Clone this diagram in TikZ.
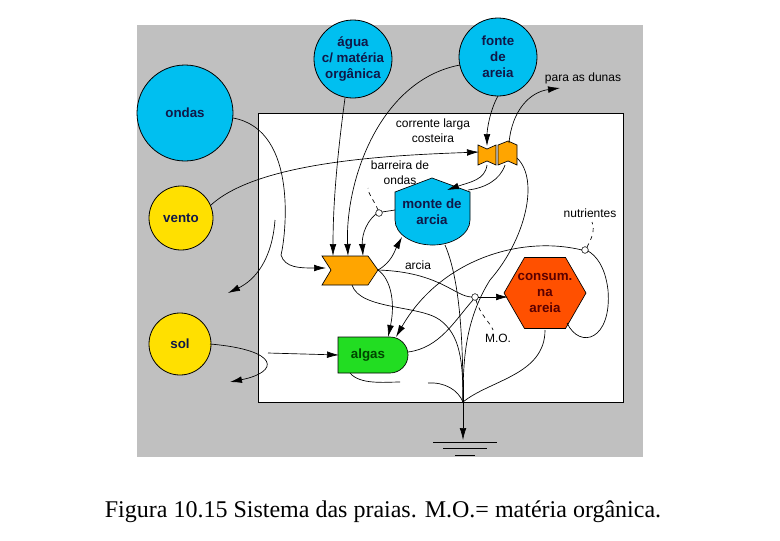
\documentclass[tikz,border=0pt]{standalone}
\usepackage{fontspec}
\setmainfont{Liberation Serif}
\setsansfont{Liberation Sans}
\usetikzlibrary{arrows.meta,shapes.geometric}
\definecolor{cy}{HTML}{00BFF0}
\definecolor{ye}{HTML}{FFE000}
\definecolor{og}{HTML}{FFA500}
\definecolor{rd}{HTML}{FF5000}
\definecolor{gr}{HTML}{22DD22}
\definecolor{nv}{HTML}{101848}
\begin{document}
\begin{tikzpicture}[x=0.75pt,y=-0.75pt,
 src/.style={circle,draw,line width=0.6pt,font=\sffamily\bfseries,text=nv,align=center,inner sep=0pt},
 lbl/.style={font=\sffamily\small,align=center,inner sep=1pt},
 ln/.style={line width=0.5pt},
 ar/.style={ln,-{Latex[length=9pt,width=5pt]}},
 sw/.style={circle,draw,fill=white,inner sep=0pt,minimum size=5pt}]
\useasboundingbox (0,0) rectangle (780,540);
\fill[fill={rgb,255:red,192;green,192;blue,192}] (137,25) rectangle (643,457);
\draw[fill=white] (258,113) rectangle (623,402);
% sources
\node[src,fill=cy,minimum size=96pt*0.75] (ondas) at (185,113) {ondas};
\node[src,fill=ye,minimum size=64pt*0.75] (vento) at (181,218) {vento};
\node[src,fill=ye,minimum size=62pt*0.75] (sol) at (180,344) {sol};
\node[src,fill=cy,minimum size=78pt*0.75] (agua) at (353,59) {água\\c/ matéria\\orgânica};
\node[src,fill=cy,minimum size=78pt*0.75] (fonte) at (498,57) {fonte\\de\\areia};
\node[lbl] (dunas) at (583,78) {para as dunas};
% corrente
\filldraw[fill=og,ln] (478,145) -- (487,149) -- (496,145) -- (496,165) -- (487,161) -- (478,165) -- cycle;
\filldraw[fill=og,ln] (498,145) -- (508,141) -- (517,145) -- (517,165) -- (508,161) -- (498,165) -- cycle;
\coordinate (cor) at (497,155);
\node[lbl] (corl) at (433,131) {corrente larga\\costeira};
% monte
\filldraw[fill=cy,ln] (432,178) -- (470,192) -- (470,220) arc[start angle=0,end angle=180,x radius=37.5,y radius=25] -- (395,192) -- cycle;
\node[font=\sffamily\bfseries,text=nv,align=center] (monte) at (432,212) {monte de\\arcia};
\node[lbl] (barl) at (400,173) {barreira de\\ondas};
\node[sw] (bc) at (379,213) {};
% chevron
\filldraw[fill=og,ln] (322,256) -- (368,256) -- (378,270) -- (368,285) -- (322,285) -- (331,270) -- cycle;
\coordinate (chv) at (350,270);
\node[lbl] (arl) at (418,265) {arcia};
% consum
\node[regular polygon,regular polygon sides=6,draw,fill=rd,minimum size=82pt*0.75,inner sep=0pt,ln] (cons) at (545,293) {};
\node[font=\sffamily\bfseries,text={rgb,255:red,90;green,0;blue,0},align=center] at (545,293) {consum.\\na\\areia};
% algas
\filldraw[fill=gr,ln] (338,337) -- (390,337) arc[start angle=-90,end angle=90,radius=18] -- (338,373) -- cycle;
\node[font=\sffamily\bfseries,text={rgb,255:red,0;green,70;blue,0}] (algas) at (368,355) {algas};
\node[lbl] (nutl) at (590,213) {nutrientes};
\node[sw] (nc) at (585,250) {};
\node[lbl] (mol) at (498,338) {M.O.};
\node[sw] (mc) at (475,297) {};
\coordinate (sink) at (463,402);
\coordinate (gnd) at (463,440);
% ground
\draw[ar] (463,380) -- (gnd);
\draw (433,442) -- (497,442) (443,448) -- (487,448) (455,455) -- (475,455);
% flows
\draw[ar] (233,118) .. controls (300,130) and (285,240) .. (281,255) .. controls (285,268) and (300,268) .. (326,268);
\draw[ar] (275,220) .. controls (272,260) and (255,280) .. (228,293);
\draw[ar] (211,205) .. controls (260,160) and (400,155) .. (479,152);
\draw[ar] (345,98) .. controls (338,150) and (333,200) .. (333,256);
\draw[ar] (460,65) .. controls (380,80) and (345,180) .. (348,256);
\draw[ln] (395,210) -- (382,212);
\draw[ar] (376,214) .. controls (363,225) and (362,240) .. (363,256);
\draw[ar] (498,96) .. controls (490,110) and (487,130) .. (487,146);
\draw[ar] (509,143) .. controls (512,110) and (530,92) .. (560,88);
\draw[ar] (487,165) .. controls (485,180) and (470,182) .. (447,190);
\draw[ln] (505,165) .. controls (500,180) and (485,188) .. (468,190);
\draw[ln] (517,158) .. controls (540,180) and (525,240) .. (490,280) .. controls (465,320) and (463,360) .. (463,402);
\draw[ln,dashed] (378,210) .. controls (374,200) and (368,194) .. (368,188);
\draw[ar] (378,270) .. controls (392,262) and (395,250) .. (402,237);
\draw[ar] (378,270) .. controls (392,280) and (395,305) .. (388,337);
\draw[ln] (378,270) .. controls (440,272) and (455,297) .. (472,297);
\draw[ar] (478,297) -- (508,297);
\draw[ln,dashed] (476,300) .. controls (480,315) and (490,322) .. (493,330);
\draw[ln] (352,285) .. controls (360,310) and (420,305) .. (440,320) .. controls (460,335) and (463,360) .. (463,402);
\draw[ar] (582,250) .. controls (520,235) and (440,260) .. (396,337);
\draw[ln] (567,323) .. controls (580,350) and (612,340) .. (608,290) .. controls (605,265) and (595,255) .. (588,251);
\draw[ln,dashed] (587,247) .. controls (592,238) and (595,230) .. (592,222);
\draw[ar] (210,344) .. controls (280,350) and (280,372) .. (230,382);
\draw[ar] (268,353) -- (339,355);
\draw[ln] (408,352) .. controls (440,348) and (455,320) .. (473,300);
\draw[ln] (445,245) .. controls (460,280) and (463,340) .. (463,402);
\draw[ln] (350,373) .. controls (360,385) and (385,382) .. (400,382);
\draw[ln] (428,383) .. controls (445,382) and (458,390) .. (463,402);
\draw[ln] (545,330) .. controls (545,375) and (490,380) .. (463,402);
% caption
\node[font=\fontsize{18}{21}\selectfont] (cap) at (383,512) {Figura 10.15 Sistema das praias. M.O.= matéria orgânica.};
\end{tikzpicture}
\end{document}
